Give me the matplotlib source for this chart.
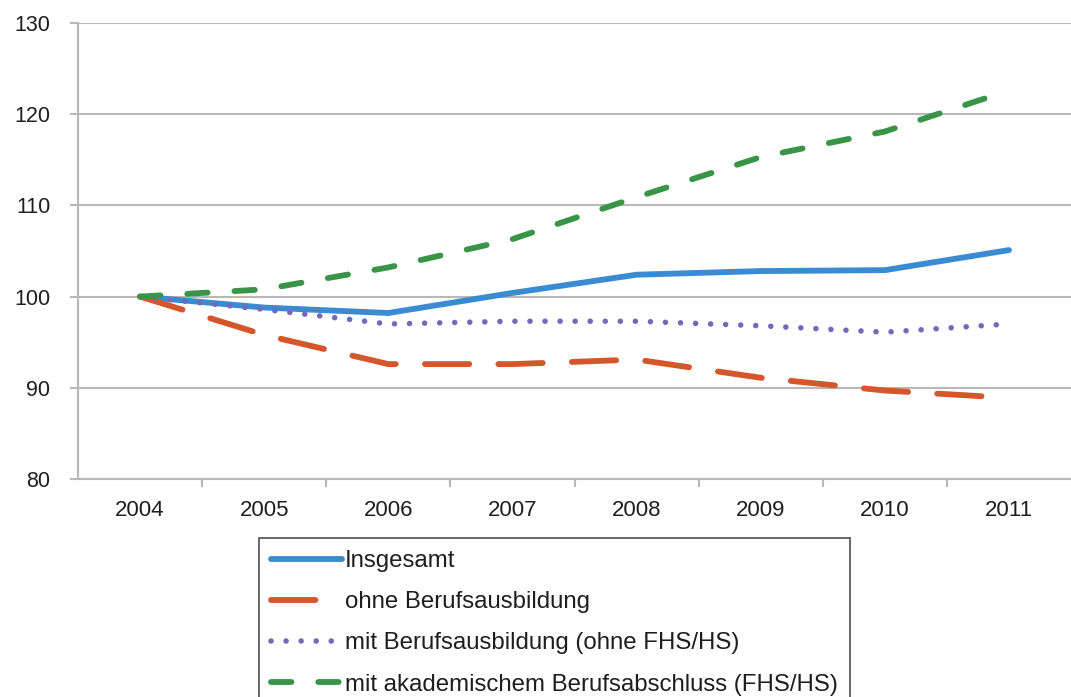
import numpy as np
import matplotlib
matplotlib.use("Agg")
from matplotlib import pyplot as plt
from matplotlib.ticker import FixedLocator

plt.rcParams["font.family"] = ["Liberation Sans", "DejaVu Sans"]

years = ["2004", "2005", "2006", "2007", "2008", "2009", "2010", "2011"]
insgesamt = [100.0, 98.8, 98.2, 100.4, 102.4, 102.8, 102.9, 105.1]
ohne_ausbildung = [100.0, 95.8, 92.6, 92.6, 93.1, 91.1, 89.7, 88.9]
mit_ausbildung = [100.0, 98.6, 97.0, 97.3, 97.3, 96.8, 96.1, 97.0]
akademisch = [100.0, 100.8, 103.2, 106.3, 110.9, 115.3, 118.1, 122.6]

labels = [
    "Insgesamt",
    "ohne Berufsausbildung",
    "mit Berufsausbildung (ohne FHS/HS)",
    "mit akademischem Berufsabschluss (FHS/HS)",
]

W, H = 1071, 697
fig = plt.figure(figsize=(W / 100, H / 100), dpi=100)
ax = fig.add_axes([78 / W, 1 - 479 / H, 1 - 78 / W, (479 - 23) / H])

x = np.arange(len(years))
grid_color = "#b8b8b8"
text_color = "#1e1e1e"

ax.plot(x, insgesamt, color="#3b8bd3", lw=4.2, solid_capstyle="round",
        solid_joinstyle="round", label=labels[0])
ax.plot(x, ohne_ausbildung, color="#d5562b", lw=4.2, dashes=(7.6, 5.0),
        dash_capstyle="round", dash_joinstyle="round", label=labels[1])
ax.plot(x, mit_ausbildung, color="#7469b8", lw=4.0, dashes=(0.01, 2.7),
        dash_capstyle="round", label=labels[2])
ax.plot(x, akademisch, color="#3a9447", lw=4.2, dashes=(3.5, 4.6),
        dash_capstyle="round", dash_joinstyle="round", label=labels[3])

ax.set_xlim(-0.5, len(years) - 0.5)
ax.set_ylim(80, 130)
ax.set_yticks([80, 90, 100, 110, 120, 130])
ax.set_xticks(x)
ax.set_xticklabels(years)
ax.xaxis.set_minor_locator(FixedLocator(x[:-1] + 0.5))

ax.grid(axis="y", color=grid_color, lw=1.5)
ax.set_axisbelow(True)
for side in ("top", "right"):
    ax.spines[side].set_visible(False)
for side in ("left", "bottom"):
    ax.spines[side].set_color(grid_color)
    ax.spines[side].set_linewidth(1.5)

ax.tick_params(axis="y", length=6, width=1.5, color=grid_color, pad=14,
               labelsize=15.5, labelcolor=text_color)
ax.tick_params(axis="x", which="major", length=0, pad=15,
               labelsize=16, labelcolor=text_color)
ax.tick_params(axis="x", which="minor", length=6, width=1.5, color=grid_color)

leg = fig.legend(loc="upper left", bbox_to_anchor=(259 / W, 1 - 538 / H),
                 borderaxespad=0, fontsize=17.3, frameon=True, fancybox=False,
                 edgecolor="#333333", handlelength=2.95, handletextpad=0.13,
                 labelspacing=0.8, borderpad=0.5, labelcolor=text_color)
leg.get_frame().set_linewidth(1.3)

fig.savefig("out.png", dpi=100)
